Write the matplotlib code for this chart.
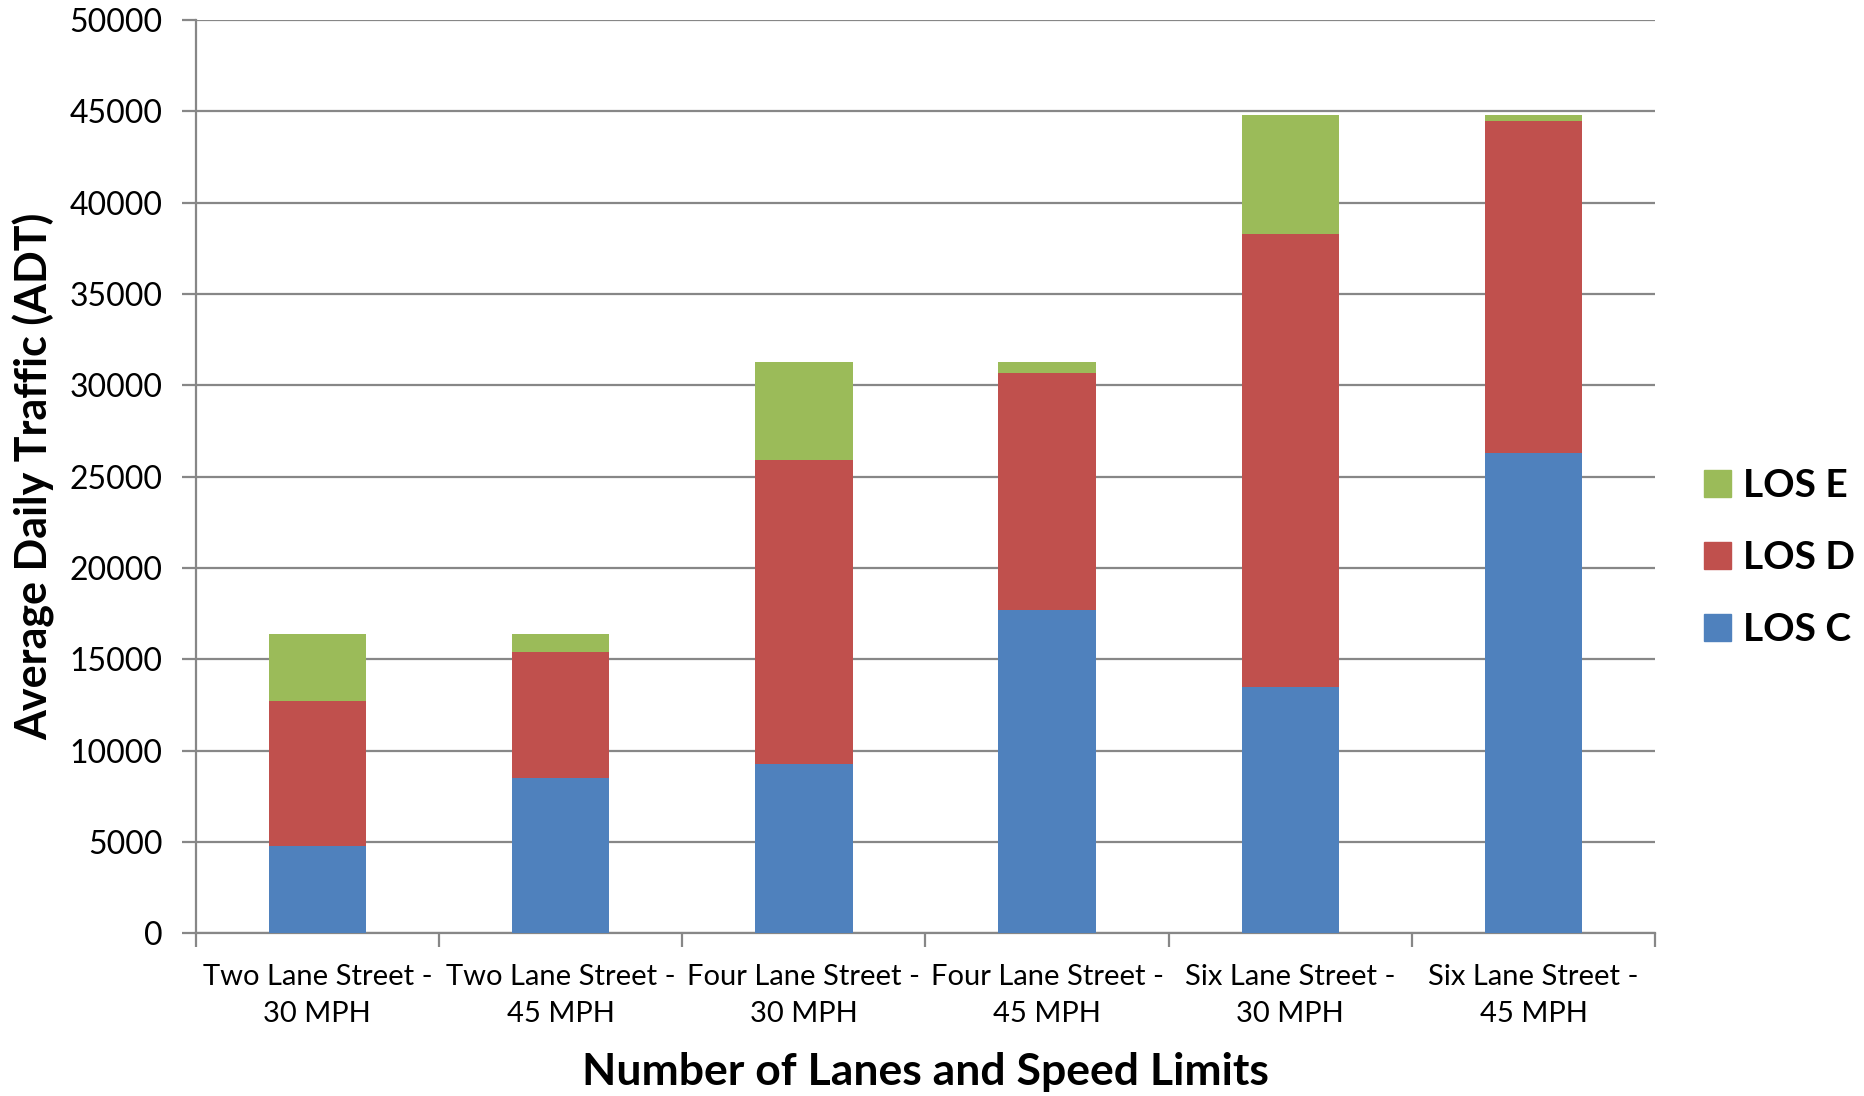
import numpy as np
import matplotlib.pyplot as plt
from matplotlib.patches import Patch

# categories and stacked values (ADT)
categories = ['Two Lane Street -\n30 MPH', 'Two Lane Street -\n45 MPH',
              'Four Lane Street -\n30 MPH', 'Four Lane Street -\n45 MPH',
              'Six Lane Street -\n30 MPH', 'Six Lane Street -\n45 MPH']
los_c = [4800, 8500, 9300, 17700, 13500, 26300]
los_d_top = [12700, 15400, 25900, 30700, 38300, 44500]
los_e_top = [16400, 16400, 31300, 31300, 44800, 44800]
y_ticks = [0, 5000, 10000, 15000, 20000, 25000, 30000, 35000, 40000, 45000, 50000]

los_d = [t - c for t, c in zip(los_d_top, los_c)]
los_e = [t - d for t, d in zip(los_e_top, los_d_top)]

col_c = '#4F81BD'
col_d = '#C0504D'
col_e = '#9BBB59'
grid_col = '#878787'

plt.rcParams['font.family'] = ['Lato', 'DejaVu Sans']

fig = plt.figure(figsize=(18.64, 10.96), dpi=100)
ax = fig.add_axes([0.105, 0.1484, 0.783, 0.8332])

x = np.arange(len(categories))
w = 0.4
ax.bar(x, los_c, w, color=col_c, edgecolor='none', zorder=3)
ax.bar(x, los_d, w, bottom=los_c, color=col_d, edgecolor='none', zorder=3)
ax.bar(x, los_e, w, bottom=los_d_top, color=col_e, edgecolor='none', zorder=3)

ax.set_ylim(0, 50000)
ax.set_xlim(-0.5, len(categories) - 0.5)
ax.set_yticks(y_ticks)
ax.set_yticklabels([str(v) for v in y_ticks], fontsize=23)
ax.yaxis.grid(True, color=grid_col, linewidth=1.6, zorder=0)
ax.set_axisbelow(True)

# category ticks on boundaries, labels centred
ax.set_xticks(np.arange(len(categories) + 1) - 0.5)
ax.set_xticklabels([])
ax.set_xticks(x, minor=True)
ax.set_xticklabels(categories, minor=True, fontsize=21, linespacing=1.55)
ax.tick_params(axis='x', which='minor', length=0, pad=22)
ax.tick_params(axis='x', which='major', direction='out', length=10, width=1.6, color=grid_col)
ax.tick_params(axis='y', direction='out', length=10, width=1.6, color=grid_col, pad=14)

for s in ['top', 'right']:
    ax.spines[s].set_visible(False)
for s in ['left', 'bottom']:
    ax.spines[s].set_color(grid_col)
    ax.spines[s].set_linewidth(1.6)

ax.set_xlabel('Number of Lanes and Speed Limits', fontsize=32, fontweight='bold', labelpad=18)
ax.set_ylabel('Average Daily Traffic (ADT)', fontsize=31, fontweight='bold', labelpad=10)

handles = [Patch(color=col_e, label='LOS E'), Patch(color=col_d, label='LOS D'),
           Patch(color=col_c, label='LOS C')]
fig.legend(handles=handles, loc='center left', bbox_to_anchor=(0.914, 0.491),
           frameon=False, prop={'size': 28, 'weight': 'bold'}, borderaxespad=0,
           borderpad=0, handlelength=0.7, handleheight=0.7, handletextpad=0.3,
           labelspacing=0.95)

fig.savefig('out.png', dpi=100)
